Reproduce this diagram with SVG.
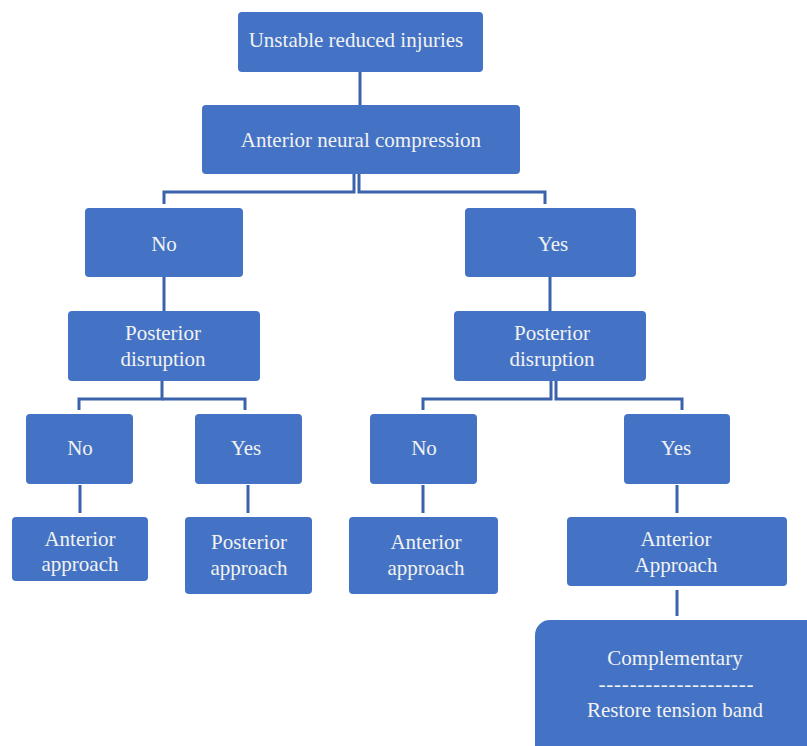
<svg xmlns="http://www.w3.org/2000/svg" width="807" height="746" viewBox="0 0 807 746">
<style>
.box{fill:#4472C4;}
.t{font-family:"Liberation Serif","DejaVu Serif",serif;font-size:21px;fill:#F2F2F2;text-anchor:middle;}
.c{fill:none;stroke:#3A62AD;stroke-width:3;}
</style>
<rect width="807" height="746" fill="#FFFFFF"/>
<g id="connectors">
<path class="c" d="M360,72 V105"/>
<path class="c" d="M354,174 V192 H164 V204"/>
<path class="c" d="M359,174 V192 H545 V204"/>
<path class="c" d="M164,277 V311"/>
<path class="c" d="M550,277 V311"/>
<path class="c" d="M162,381 V399 H79 V410"/>
<path class="c" d="M162,399 H245 V410"/>
<path class="c" d="M551,381 V399 H423 V410"/>
<path class="c" d="M556,381 V399 H682 V410"/>
<path class="c" d="M80,485 V513"/>
<path class="c" d="M248,485 V513"/>
<path class="c" d="M423,485 V513"/>
<path class="c" d="M677,485 V513"/>
<path class="c" d="M677,590 V616"/>
</g>
<g id="n1"><rect class="box" x="238" y="12" width="245" height="60" rx="4"/><text class="t" x="356" y="47">Unstable reduced injuries</text></g>
<g id="n2"><rect class="box" x="202" y="105" width="318" height="69" rx="4"/><text class="t" x="361" y="147">Anterior neural compression</text></g>
<g id="n3"><rect class="box" x="85" y="208" width="158" height="69" rx="4"/><text class="t" x="164" y="251">No</text></g>
<g id="n4"><rect class="box" x="465" y="208" width="171" height="69" rx="4"/><text class="t" x="553" y="251">Yes</text></g>
<g id="n5"><rect class="box" x="68" y="311" width="192" height="70" rx="4"/><text class="t" x="163" y="340">Posterior</text><text class="t" x="163" y="366">disruption</text></g>
<g id="n6"><rect class="box" x="454" y="311" width="192" height="70" rx="4"/><text class="t" x="552" y="340">Posterior</text><text class="t" x="552" y="366">disruption</text></g>
<g id="n7"><rect class="box" x="26" y="414" width="107" height="70" rx="4"/><text class="t" x="80" y="455">No</text></g>
<g id="n8"><rect class="box" x="195" y="414" width="107" height="70" rx="4"/><text class="t" x="246" y="455">Yes</text></g>
<g id="n9"><rect class="box" x="370" y="414" width="107" height="70" rx="4"/><text class="t" x="424" y="455">No</text></g>
<g id="n10"><rect class="box" x="624" y="414" width="106" height="70" rx="4"/><text class="t" x="676" y="455">Yes</text></g>
<g id="n11"><rect class="box" x="12" y="517" width="136" height="64" rx="4"/><text class="t" x="80" y="546">Anterior</text><text class="t" x="80" y="571">approach</text></g>
<g id="n12"><rect class="box" x="185" y="517" width="127" height="77" rx="4"/><text class="t" x="249" y="549">Posterior</text><text class="t" x="249" y="575">approach</text></g>
<g id="n13"><rect class="box" x="349" y="517" width="149" height="77" rx="4"/><text class="t" x="426" y="549">Anterior</text><text class="t" x="426" y="575">approach</text></g>
<g id="n14"><rect class="box" x="567" y="517" width="220" height="69" rx="4"/><text class="t" x="676" y="546">Anterior</text><text class="t" x="676" y="572">Approach</text></g>
<g id="n15"><rect class="box" x="535" y="620" width="290" height="140" rx="15"/><text class="t" x="675" y="665">Complementary</text><text class="t" x="676" y="691" textLength="155" lengthAdjust="spacing">--------------------</text><text class="t" x="675" y="717">Restore tension band</text></g>
</svg>
